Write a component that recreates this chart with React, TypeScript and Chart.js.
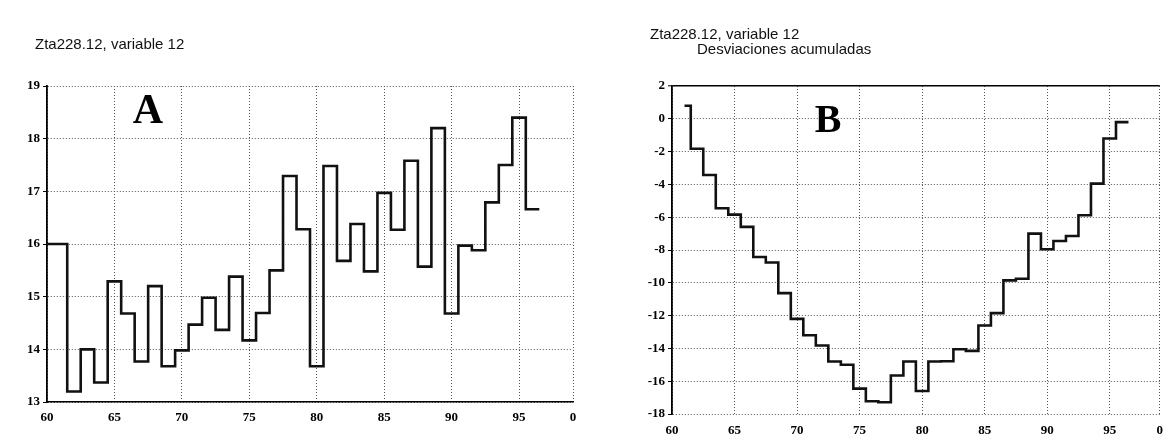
import React, { useEffect, useRef } from "react";
import { Chart, registerables } from "chart.js";

Chart.register(...registerables);

// ---- Data ----
const yearsA = [60, 61, 62, 63, 64, 65, 66, 67, 68, 69, 70, 71, 72, 73, 74, 75, 76, 77, 78, 79, 80, 81, 82, 83, 84, 85, 86, 87, 88, 89, 90, 91, 92, 93, 94, 95, 96];
const valuesA = [16.0, 16.0, 13.2, 14.0, 13.37, 15.29, 14.68, 13.77, 15.2, 13.68, 13.98, 14.47, 14.98, 14.37, 15.38, 14.17, 14.69, 15.5, 17.29, 16.28, 13.68, 17.48, 15.68, 16.38, 15.48, 16.97, 16.27, 17.58, 15.57, 18.2, 14.68, 15.97, 15.88, 16.79, 17.5, 18.4, 16.66];

const yearsB = [61, 62, 63, 64, 65, 66, 67, 68, 69, 70, 71, 72, 73, 74, 75, 76, 77, 78, 79, 80, 81, 82, 83, 84, 85, 86, 87, 88, 89, 90, 91, 92, 93, 94, 95, 96];
const valuesB = [0.8, -1.83, -3.43, -5.45, -5.84, -6.59, -8.43, -8.76, -10.63, -12.2, -13.2, -13.82, -14.8, -15.0, -16.45, -17.22, -17.28, -15.65, -14.8, -16.6, -14.8, -14.78, -14.05, -14.15, -12.6, -11.85, -9.85, -9.75, -7.0, -7.95, -7.45, -7.15, -5.88, -3.95, -1.2, -0.2];

const xTickValues = [60, 65, 70, 75, 80, 85, 90, 95, 99];
const xTickLabels = ["60", "65", "70", "75", "80", "85", "90", "95", "0"];

const titleA = "Zta228.12, variable 12";
const titleB1 = "Zta228.12, variable 12";
const titleB2 = "Desviaciones acumuladas";
const letterA = "A";
const letterB = "B";

const X_MIN = 60;
const X_MAX = 99;

type PanelOpts = {
  years: number[];
  values: number[];
  yMin: number;
  yMax: number;
  yStep: number;
  yWidth: number;
  xHeight: number;
  xPad: number;
  padRight: number;
  topSolid: boolean;
  bottomSolid: boolean;
};

function stepPoints(years: number[], values: number[]) {
  const pts = years.map((x, i) => ({ x, y: values[i] }));
  // extend the last value over its full year
  pts.push({ x: years[years.length - 1] + 0.5, y: values[values.length - 1] });
  return pts;
}

const tickFont = { family: "'Liberation Serif', 'Times New Roman', serif", size: 13, weight: "bold" as const };
const GRID = "#555";

function makeConfig(o: PanelOpts): any {
  return {
    type: "line",
    data: {
      datasets: [
        {
          data: stepPoints(o.years, o.values),
          stepped: "middle",
          borderColor: "#111",
          borderWidth: 2.6,
          pointRadius: 0,
          fill: false,
          borderJoinStyle: "miter",
        },
      ],
    },
    options: {
      animation: false,
      responsive: false,
      maintainAspectRatio: false,
      devicePixelRatio: 1,
      layout: { padding: { top: 86, right: o.padRight, bottom: 0, left: 0 } },
      plugins: { legend: { display: false }, tooltip: { enabled: false }, title: { display: false } },
      scales: {
        x: {
          type: "linear",
          min: X_MIN,
          max: X_MAX,
          afterBuildTicks: (scale: any) => {
            scale.ticks = xTickValues.map((v) => ({ value: v }));
          },
          afterFit: (scale: any) => {
            scale.height = o.xHeight;
          },
          ticks: {
            autoSkip: false,
            maxRotation: 0,
            padding: o.xPad,
            color: "#000",
            font: tickFont,
            callback: (_v: any, i: number) => xTickLabels[i],
          },
          grid: {
            color: GRID,
            lineWidth: 1,
            drawTicks: false,
          },
          border: {
            display: o.bottomSolid,
            color: "#000",
            width: 1.6,
            dash: [1, 2],
          },
        },
        y: {
          type: "linear",
          min: o.yMin,
          max: o.yMax,
          afterFit: (scale: any) => {
            scale.width = o.yWidth;
          },
          ticks: {
            stepSize: o.yStep,
            padding: 3,
            color: "#000",
            font: tickFont,
          },
          grid: {
            color: (ctx: any) => (o.topSolid && ctx.tick && ctx.tick.value === o.yMax ? "#000" : GRID),
            lineWidth: (ctx: any) => (o.topSolid && ctx.tick && ctx.tick.value === o.yMax ? 1.6 : 1),
            drawTicks: true,
            tickLength: 4,
            tickColor: "#000",
            tickWidth: 1,
            tickBorderDash: [],
          },
          border: {
            display: true,
            color: "#000",
            width: 1.8,
            dash: (ctx: any) => (o.topSolid && ctx.tick && ctx.tick.value === o.yMax ? [] : [1, 2]),
          },
        },
      },
    },
  };
}

function Panel({ width, height, opts }: { width: number; height: number; opts: PanelOpts }) {
  const ref = useRef<HTMLCanvasElement | null>(null);
  useEffect(() => {
    if (!ref.current) return;
    const chart = new Chart(ref.current, makeConfig(opts));
    return () => chart.destroy();
  }, []);
  return <canvas ref={ref} width={width} height={height} style={{ display: "block", width, height }} />;
}

const sans = "'Liberation Sans', Arial, sans-serif";
const serif = "'Liberation Serif', 'Times New Roman', serif";

export default function App() {
  return (
    <div
      style={{
        position: "fixed",
        left: 0,
        top: 0,
        width: 1172,
        height: 437,
        background: "#fff",
        overflow: "hidden",
      }}
    >
      <div style={{ position: "absolute", left: 0, top: 0 }}>
        <Panel
          width={600}
          height={437}
          opts={{
            years: yearsA,
            values: valuesA,
            yMin: 13,
            yMax: 19,
            yStep: 1,
            yWidth: 47,
            xHeight: 35,
            xPad: 8,
            padRight: 27,
            topSolid: false,
            bottomSolid: true,
          }}
        />
      </div>
      <div style={{ position: "absolute", left: 600, top: 0 }}>
        <Panel
          width={572}
          height={437}
          opts={{
            years: yearsB,
            values: valuesB,
            yMin: -18,
            yMax: 2,
            yStep: 2,
            yWidth: 72,
            xHeight: 23,
            xPad: 9,
            padRight: 4,
            topSolid: true,
            bottomSolid: false,
          }}
        />
      </div>
      <div style={{ position: "absolute", left: 35, top: 36, font: `15px ${sans}`, lineHeight: 1, color: "#111", whiteSpace: "nowrap" }}>
        {titleA}
      </div>
      <div style={{ position: "absolute", left: 650, top: 26, font: `15px ${sans}`, lineHeight: 1, color: "#111", whiteSpace: "nowrap" }}>
        {titleB1}
      </div>
      <div style={{ position: "absolute", left: 697, top: 41, font: `15px ${sans}`, lineHeight: 1, color: "#111", whiteSpace: "nowrap" }}>
        {titleB2}
      </div>
      <div style={{ position: "absolute", left: 118, top: 88, width: 60, textAlign: "center", font: `bold 42px ${serif}`, lineHeight: 1, color: "#000" }}>
        {letterA}
      </div>
      <div style={{ position: "absolute", left: 798, top: 99, width: 60, textAlign: "center", font: `bold 40px ${serif}`, lineHeight: 1, color: "#000" }}>
        {letterB}
      </div>
    </div>
  );
}
